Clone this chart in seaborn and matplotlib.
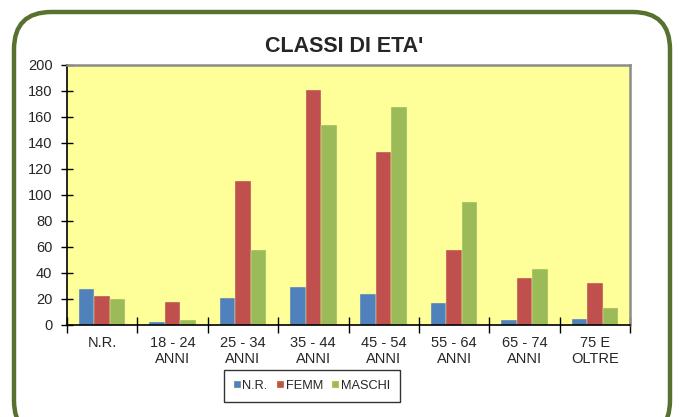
import matplotlib.pyplot as plt
import pandas as pd
import seaborn as sns
from matplotlib.patches import FancyBboxPatch

CATEGORIES = ["N.R.", "18 - 24\nANNI", "25 - 34\nANNI", "35 - 44\nANNI",
              "45 - 54\nANNI", "55 - 64\nANNI", "65 - 74\nANNI", "75 E\nOLTRE"]
NR = [28, 2, 21, 29, 24, 17, 4, 5]
FEMM = [22, 18, 111, 181, 133, 58, 36, 32]
MASCHI = [20, 4, 58, 154, 168, 95, 43, 13]
SERIES = ["N.R.", "FEMM", "MASCHI"]
COLORS = ["#4F81BD", "#C0504D", "#9BBB59"]
Y_TICKS = list(range(0, 201, 20))

sns.set_theme(style="white")
plt.rcParams["font.family"] = ["Liberation Sans", "DejaVu Sans"]

df = pd.DataFrame({
    "cat": CATEGORIES * 3,
    "serie": [s for s in SERIES for _ in CATEGORIES],
    "val": NR + FEMM + MASCHI,
})

fig = plt.figure(figsize=(6.79, 4.17), dpi=100)
ax = fig.add_axes([67 / 679, 1 - 325 / 417, 563 / 679, 260 / 417])

# rounded frame around the whole chart
frame = FancyBboxPatch((14 / 679, -0.05), 656 / 679, 1.05 - 12 / 417,
                       boxstyle="round,pad=0,rounding_size=0.055",
                       transform=fig.transFigure, fill=False,
                       edgecolor="#587030", linewidth=3.2, mutation_aspect=679 / 417)
fig.patches.append(frame)

sns.barplot(data=df, x="cat", y="val", hue="serie", hue_order=SERIES,
            palette=COLORS, width=0.66, ax=ax, saturation=1,
            edgecolor="#F2F2A0", linewidth=0.3)

ax.set_facecolor("#FFFF99")
ax.set_xlim(-0.5, len(CATEGORIES) - 0.5)
ax.set_ylim(0, 200)
ax.set_yticks(Y_TICKS)
ax.set_xlabel("")
ax.set_ylabel("")
ax.tick_params(axis="y", which="major", direction="inout", length=9, width=1,
               color="black", labelsize=10.5, pad=6, left=True)
ax.tick_params(axis="x", which="major", length=0, labelsize=10.5, pad=8)
ax.set_xticks([i - 0.5 for i in range(len(CATEGORIES) + 1)], minor=True)
ax.tick_params(axis="x", which="minor", direction="inout", length=12, width=1,
               color="black", bottom=True)

for side in ["left", "bottom"]:
    ax.spines[side].set_color("black")
    ax.spines[side].set_linewidth(1.2)
for side in ["top", "right"]:
    ax.spines[side].set_color("#8C8C8C")
    ax.spines[side].set_linewidth(1.8)

fig.text(344 / 679, 1 - 47 / 417, "CLASSI DI ETA'", ha="center", va="center",
         fontsize=15.5, fontweight="bold")

ax.legend_.remove()
handles, labels = ax.get_legend_handles_labels()
leg = fig.legend(handles, labels, loc="center", bbox_to_anchor=(312 / 679, 1 - 386 / 417),
                 ncol=3, frameon=True, fontsize=9.2, handlelength=0.55, handleheight=0.55,
                 handletextpad=0.1, columnspacing=0.75, borderpad=0.8, fancybox=False)
leg.get_frame().set_edgecolor("black")
leg.get_frame().set_linewidth(1.0)

fig.savefig("out.png", dpi=100)
